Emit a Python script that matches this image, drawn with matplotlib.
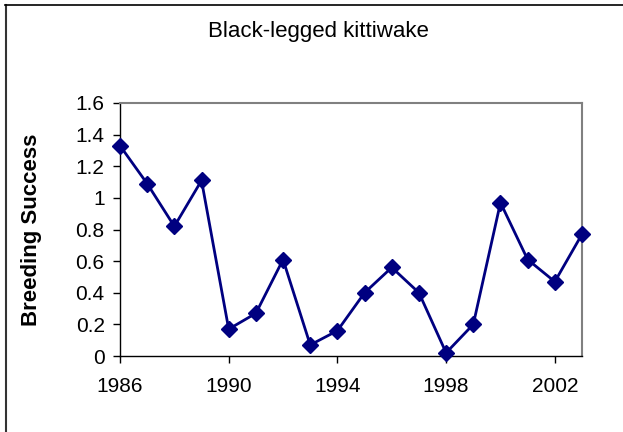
import matplotlib
matplotlib.use("Agg")
import matplotlib.pyplot as plt
from matplotlib.lines import Line2D

years = [1986, 1987, 1988, 1989, 1990, 1991, 1992, 1993, 1994, 1995,
         1996, 1997, 1998, 1999, 2000, 2001, 2002, 2003]
success = [1.33, 1.09, 0.82, 1.11, 0.17, 0.27, 0.61, 0.07, 0.16, 0.40,
           0.56, 0.40, 0.02, 0.20, 0.97, 0.61, 0.47, 0.77]
xticks = [1986, 1990, 1994, 1998, 2002]
yticks = [0, 0.2, 0.4, 0.6, 0.8, 1, 1.2, 1.4, 1.6]
ytick_labels = ["0", "0.2", "0.4", "0.6", "0.8", "1", "1.2", "1.4", "1.6"]

plt.rcParams['font.family'] = ['Liberation Sans', 'DejaVu Sans']

W, H = 623, 432
fig = plt.figure(figsize=(W / 100, H / 100), dpi=100)
ax = fig.add_axes([120 / W, (H - 356) / H, (582 - 120) / W, (356 - 103) / H])

ax.plot(years, success, color='#000080', linewidth=2, marker='D',
        markersize=8, markerfacecolor='#000080', markeredgecolor='#000080',
        clip_on=False, zorder=3)

ax.set_xlim(1986, 2003)
ax.set_ylim(0, 1.6)
ax.set_xticks(xticks)
ax.set_xticklabels([str(x) for x in xticks])
ax.set_yticks(yticks)
ax.set_yticklabels(ytick_labels)
ax.tick_params(axis='both', direction='out', length=5, width=1,
               labelsize=15, colors='black')
ax.tick_params(axis='x', pad=10)
ax.tick_params(axis='y', pad=6)

for s in ['left', 'bottom']:
    ax.spines[s].set_color('black')
    ax.spines[s].set_linewidth(1)
for s in ['top', 'right']:
    ax.spines[s].set_color('#808080')
    ax.spines[s].set_linewidth(1.5)

ax.set_ylabel('Breeding Success', fontsize=16, fontweight='bold', labelpad=24)

fig.text(318 / W, 1 - 32 / H, 'Black-legged kittiwake', ha='center',
         va='center', fontsize=16)

# outer chart border (top and left edges visible)
fig.add_artist(Line2D([5.5 / W, 5.5 / W], [0, 1 - 5 / H], transform=fig.transFigure,
                      color='#333333', linewidth=1.5))
fig.add_artist(Line2D([5 / W, 1], [1 - 5 / H, 1 - 5 / H], transform=fig.transFigure,
                      color='black', linewidth=1.2))

fig.savefig('out.png', dpi=100)
